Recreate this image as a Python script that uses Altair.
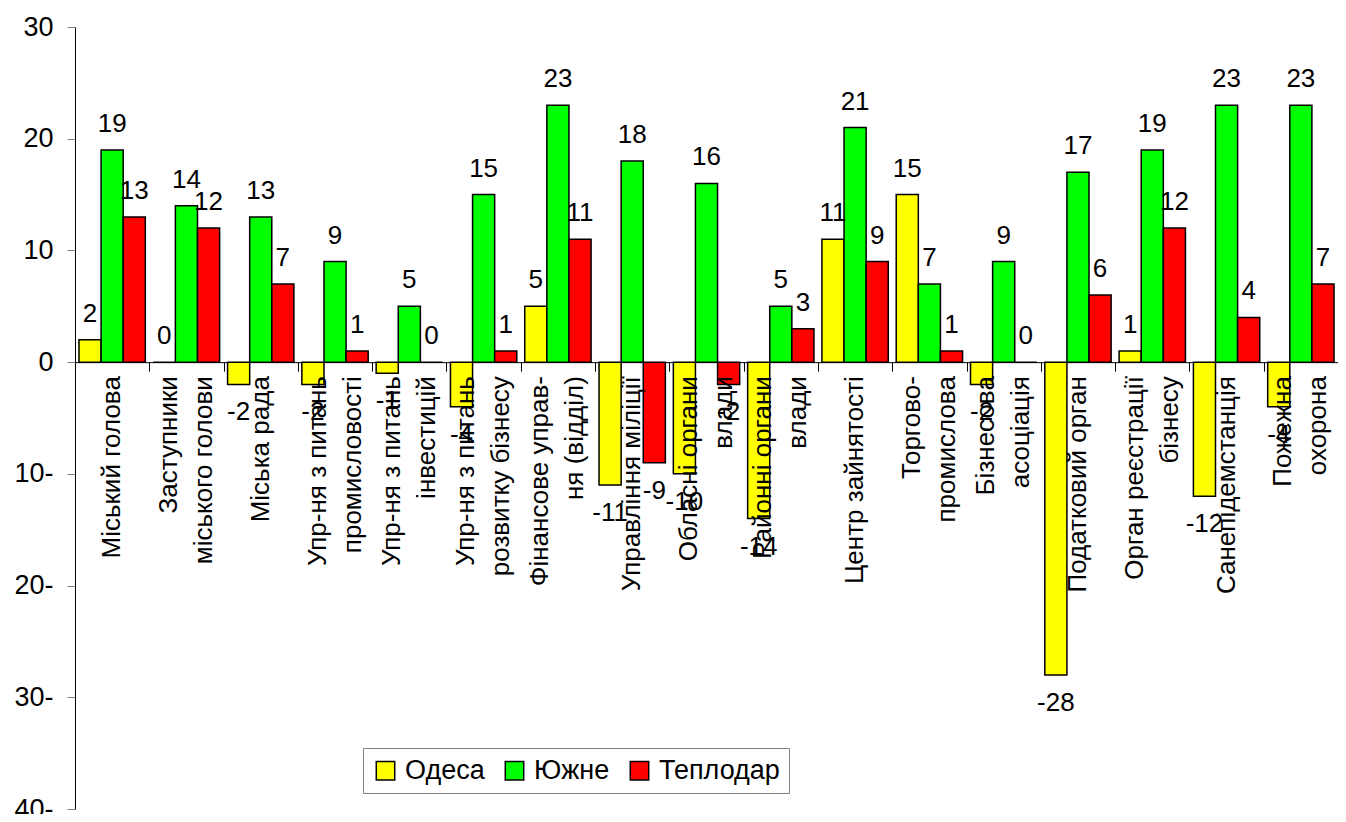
import altair as alt
import pandas as pd

categories = [
    "Міський голова",
    "Заступники\nміського голови",
    "Міська рада",
    "Упр-ня з питань\nпромисловості",
    "Упр-ня з питань\nінвестицій",
    "Упр-ня з питань\nрозвитку бізнесу",
    "Фінансове управ-\nня (відділ)",
    "Управління міліції",
    "Обласні органи\nвлади",
    "Районні органи\nвлади",
    "Центр зайнятості",
    "Торгово-\nпромислова",
    "Бізнесова\nасоціація",
    "Податковий орган",
    "Орган реєстрації\nбізнесу",
    "Санепідемстанція",
    "Пожежна\nохорона",
]
series = ["Одеса", "Южне", "Теплодар"]
odesa = [2, 0, -2, -2, -1, -4, 5, -11, -10, -14, 11, 15, -2, -28, 1, -12, -4]
yuzhne = [19, 14, 13, 9, 5, 15, 23, 18, 16, 5, 21, 7, 9, 17, 19, 23, 23]
teplodar = [13, 12, 7, 1, 0, 1, 11, -9, -2, 3, 9, 1, 0, 6, 12, 4, 7]
colors = ["#FFFF00", "#00FF00", "#FF0000"]
y_ticks = [30, 20, 10, 0, -10, -20, -30, -40]
y_min, y_max = -40, 30

rows = []
for i, c in enumerate(categories):
    for s, vals in zip(series, [odesa, yuzhne, teplodar]):
        rows.append({"cat": c, "series": s, "value": vals[i]})
df = pd.DataFrame(rows)

FONT = "Liberation Sans"
W, H = 1263, 782
LINE_H = 35
zero_offset = -H * (-y_min) / (y_max - y_min)

x_enc = alt.X(
    "cat:N", sort=categories, title=None,
    scale=alt.Scale(paddingInner=0, paddingOuter=0),
    axis=alt.Axis(
        offset=zero_offset, labels=False, ticks=True, tickBand="extent",
        tickSize=9, tickColor="black", domain=True, domainColor="black",
        grid=False,
    ),
)
xo_enc = alt.XOffset("series:N", sort=series,
                     scale=alt.Scale(paddingInner=0, paddingOuter=0.18))
y_scale = alt.Scale(domain=[y_min, y_max], nice=False, zero=False)
y_axis = alt.Axis(
    values=y_ticks,
    labelExpr="datum.value < 0 ? (-datum.value) + '-' : '' + datum.value",
    grid=False,
    tickSize=8,
    tickColor="#808080",
    domainColor="black",
    labelFontSize=27,
    labelColor="black",
    labelPadding=14,
    labelFont=FONT,
)
y_enc = alt.Y("value:Q", title=None, scale=y_scale, axis=y_axis)

base = alt.Chart(df).transform_calculate(lab="'' + datum.value")

bars = base.mark_bar(stroke="black", strokeWidth=1.5).encode(
    x=x_enc,
    xOffset=xo_enc,
    y=y_enc,
    color=alt.Color(
        "series:N",
        sort=series,
        scale=alt.Scale(domain=series, range=colors),
        legend=alt.Legend(
            orient="none",
            legendX=288,
            legendY=721,
            direction="horizontal",
            title=None,
            symbolType="square",
            symbolSize=340,
            symbolStrokeColor="black",
            symbolStrokeWidth=1.5,
            labelFontSize=27,
            labelFont=FONT,
            labelColor="black",
            labelOffset=6,
            columnPadding=16,
            padding=9,
            strokeColor="#808080",
            fillColor="white",
        ),
    ),
)

pos_labels = base.transform_filter("datum.value >= 0").mark_text(
    fontSize=26, font=FONT, color="black", baseline="alphabetic", dy=-18
).encode(x=x_enc, xOffset=xo_enc, y=y_enc, text="lab:N")

neg_labels = base.transform_filter("datum.value < 0").mark_text(
    fontSize=26, font=FONT, color="black", baseline="alphabetic", dy=36
).encode(x=x_enc, xOffset=xo_enc, y=y_enc, text="lab:N")

cat_base = base.transform_filter(alt.datum.series == series[0]).transform_calculate(
    zero="0"
)
cat_enc = dict(
    x=x_enc,
    y=alt.Y("zero:Q", title=None, scale=y_scale, axis=y_axis),
    text="cat:N",
)
cat_props = dict(
    angle=270, align="right", baseline="middle", dx=-14,
    fontSize=26, font=FONT, color="black", lineBreak="\n", lineHeight=LINE_H,
)
cat_single = cat_base.transform_filter("indexof(datum.cat, '\\n') < 0").mark_text(
    **cat_props
).encode(**cat_enc)
cat_double = cat_base.transform_filter("indexof(datum.cat, '\\n') >= 0").mark_text(
    dy=-LINE_H / 2, **cat_props
).encode(**cat_enc)

chart = alt.layer(bars, pos_labels, neg_labels, cat_single, cat_double).properties(
    width=W,
    height=H,
    autosize=alt.AutoSizeParams(type="none"),
    padding={"left": 67, "top": 19, "right": 0, "bottom": 5},
).configure_view(stroke=None)

chart.save("out.html", embed_options={"renderer": "svg", "actions": False})
